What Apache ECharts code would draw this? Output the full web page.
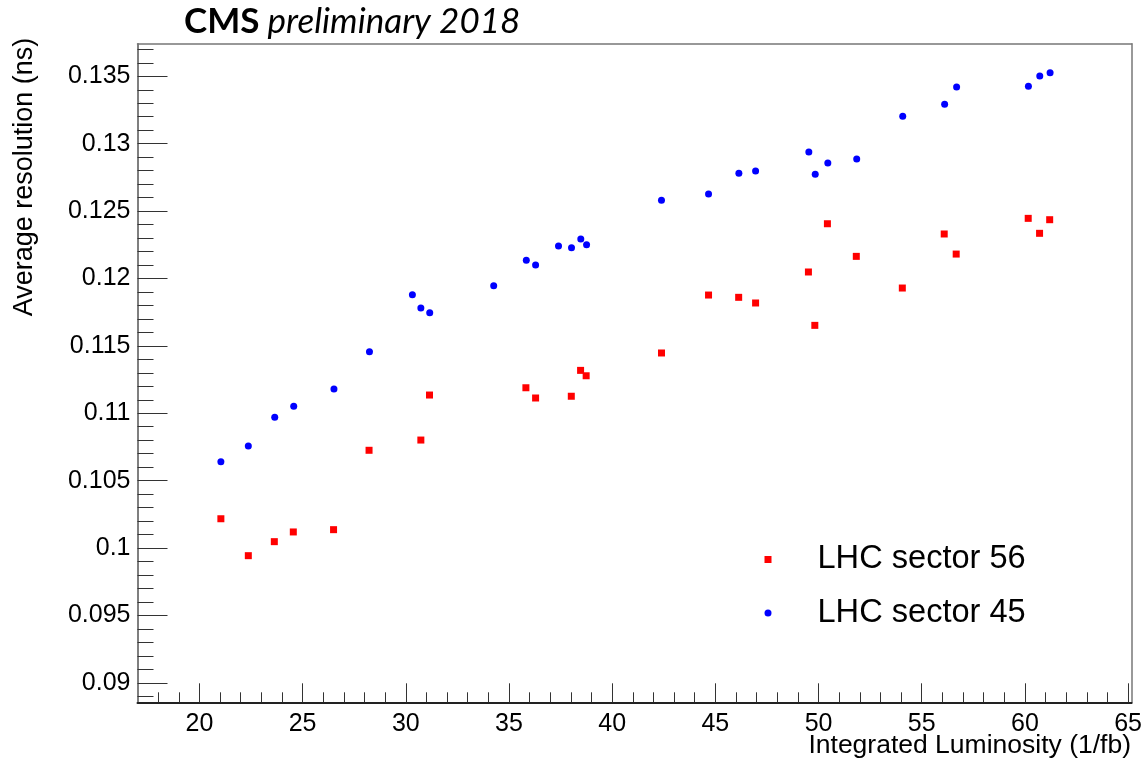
<!DOCTYPE html>
<html>
<head>
<meta charset="utf-8">
<title>Average timing resolution vs integrated luminosity</title>
<script src="https://cdn.jsdelivr.net/npm/echarts@6/dist/echarts.min.js"></script>
<style>
  html, body { margin: 0; padding: 0; background: #fff; }
  #chart { width: 1145px; height: 760px; }
</style>
</head>
<body>
<div id="chart"></div>
<script>
// Integrated luminosity (1/fb) and average resolution (ns), per LHC sector
const lumi56 = [21.04, 22.37, 23.63, 24.55, 26.50, 28.22, 30.73, 31.15, 35.82, 36.29, 38.02, 38.47, 38.74,
                42.39, 44.67, 46.13, 46.95, 49.51, 49.82, 50.43, 51.83, 54.06, 56.09, 56.67, 60.16, 60.71, 61.20];
const res56  = [0.10217, 0.09943, 0.10047, 0.10119, 0.10136, 0.10725, 0.10801, 0.11135, 0.11189, 0.11113, 0.11126, 0.11318, 0.11278,
                0.11447, 0.11877, 0.11860, 0.11818, 0.12048, 0.11652, 0.12406, 0.12164, 0.11929, 0.12330, 0.12181, 0.12446, 0.12335, 0.12436];

const lumi45 = [21.04, 22.37, 23.65, 24.57, 26.52, 28.24, 30.32, 30.73, 31.16, 34.26, 35.84, 36.29, 37.40, 38.03, 38.48, 38.76,
                42.39, 44.67, 46.14, 46.95, 49.53, 49.84, 50.45, 51.85, 54.08, 56.11, 56.69, 60.17, 60.72, 61.22];
const res45  = [0.10640, 0.10757, 0.10970, 0.11051, 0.11180, 0.11457, 0.11879, 0.11781, 0.11746, 0.11946, 0.12135, 0.12100, 0.12241, 0.12228, 0.12293, 0.12250,
                0.12580, 0.12627, 0.12780, 0.12797, 0.12938, 0.12773, 0.12857, 0.12886, 0.13203, 0.13292, 0.13421, 0.13426, 0.13502, 0.13527];

// Axis ranges and tick positions
const xRange = [17, 65.17];
const yRange = [0.08855, 0.13742];
const xMajorTicks = [20, 25, 30, 35, 40, 45, 50, 55, 60, 65];
const xMinorTicks = [18, 19, 21, 22, 23, 24, 26, 27, 28, 29, 31, 32, 33, 34, 36, 37, 38, 39, 41, 42, 43, 44,
                     46, 47, 48, 49, 51, 52, 53, 54, 56, 57, 58, 59, 61, 62, 63, 64];
const yMajorTicks = [0.09, 0.095, 0.1, 0.105, 0.11, 0.115, 0.12, 0.125, 0.13, 0.135];
const yMinorTicks = [0.089, 0.091, 0.092, 0.093, 0.094, 0.096, 0.097, 0.098, 0.099, 0.101, 0.102, 0.103, 0.104,
                     0.106, 0.107, 0.108, 0.109, 0.111, 0.112, 0.113, 0.114, 0.116, 0.117, 0.118, 0.119,
                     0.121, 0.122, 0.123, 0.124, 0.126, 0.127, 0.128, 0.129, 0.131, 0.132, 0.133, 0.134, 0.136, 0.137];

const seriesNames = ['LHC sector 56', 'LHC sector 45'];
const titleText = ['CMS', 'preliminary 2018'];
const xTitle = 'Integrated Luminosity (1/fb)';
const yTitle = 'Average resolution (ns)';

const zip = (xs, ys) => xs.map((x, i) => [x, ys[i]]);

const FONT = '"Liberation Sans", Arial, Helvetica, sans-serif';
const TITLE_FONT = 'Lato, "Open Sans", sans-serif';
const tickStyle = { color: '#333', width: 1 };

const chart = echarts.init(document.getElementById('chart'), null, { renderer: 'canvas' });

const hidden = { show: false };

chart.setOption({
  animation: false,
  backgroundColor: '#ffffff',
  grid: { left: 137.5, right: 12, top: 43.7, bottom: 57.7, containLabel: false },
  xAxis: [
    { // main axis with major ticks and labels
      type: 'value', min: xRange[0], max: xRange[1], position: 'bottom',
      axisLine: { show: true, lineStyle: { color: '#222', width: 2 } },
      axisTick: { show: true, inside: true, length: 19, customValues: xMajorTicks, lineStyle: tickStyle },
      axisLabel: { show: true, customValues: xMajorTicks, margin: 9, color: '#000',
                   fontFamily: FONT, fontSize: 25 },
      splitLine: hidden, minorTick: hidden
    },
    { // minor ticks
      type: 'value', min: xRange[0], max: xRange[1], position: 'bottom',
      axisLine: hidden, axisLabel: hidden, splitLine: hidden,
      axisTick: { show: true, inside: true, length: 10, customValues: xMinorTicks, lineStyle: tickStyle }
    },
    { // top frame edge
      type: 'value', min: xRange[0], max: xRange[1], position: 'top',
      axisLine: { show: true, lineStyle: { color: '#777', width: 1.5 } },
      axisTick: hidden, axisLabel: hidden, splitLine: hidden
    }
  ],
  yAxis: [
    {
      type: 'value', min: yRange[0], max: yRange[1], position: 'left',
      axisLine: { show: true, lineStyle: { color: '#555', width: 1.5 } },
      axisTick: { show: true, inside: true, length: 30, customValues: yMajorTicks, lineStyle: tickStyle },
      axisLabel: { show: true, customValues: yMajorTicks, margin: 7, color: '#000',
                   fontFamily: FONT, fontSize: 25,
                   formatter: v => String(+(+v).toFixed(3)) },
      splitLine: hidden, minorTick: hidden
    },
    {
      type: 'value', min: yRange[0], max: yRange[1], position: 'left',
      axisLine: hidden, axisLabel: hidden, splitLine: hidden,
      axisTick: { show: true, inside: true, length: 16, customValues: yMinorTicks, lineStyle: tickStyle }
    },
    { // right frame edge
      type: 'value', min: yRange[0], max: yRange[1], position: 'right',
      axisLine: { show: true, lineStyle: { color: '#777', width: 1.5 } },
      axisTick: hidden, axisLabel: hidden, splitLine: hidden
    }
  ],
  legend: {
    orient: 'vertical',
    left: 759.5, top: 537.5,
    itemWidth: 7, itemHeight: 7, itemGap: 19.5,
    data: [
      { name: seriesNames[0], icon: 'rect', itemStyle: { color: '#ff0000' } },
      { name: seriesNames[1], icon: 'circle', itemStyle: { color: '#0000ff' } }
    ],
    textStyle: { fontFamily: FONT, fontSize: 32.6, color: '#000', lineHeight: 34, padding: [0, 0, 0, 41] },
    selectedMode: false
  },
  graphic: [
    {
      type: 'text', left: 184, top: 4,
      style: {
        text: '{b|' + titleText[0] + '}{i| ' + titleText[1] + '}',
        rich: {
          b: { fontFamily: TITLE_FONT, fontWeight: 'bold', fontSize: 35, fill: '#000' },
          i: { fontFamily: TITLE_FONT, fontStyle: 'italic', fontSize: 35, fill: '#000' }
        }
      }
    },
    {
      type: 'text', x: 1131, y: 746,
      style: { text: xTitle, fontFamily: FONT, fontSize: 26.5, fill: '#000', align: 'right', verticalAlign: 'middle' }
    },
    {
      type: 'text', x: 25, y: 177, rotation: Math.PI / 2,
      style: { text: yTitle, fontFamily: FONT, fontSize: 27, fill: '#000', align: 'center', verticalAlign: 'middle' }
    }
  ],
  series: [
    {
      name: seriesNames[0], type: 'scatter', xAxisIndex: 0, yAxisIndex: 0,
      symbol: 'rect', symbolSize: 7,
      itemStyle: { color: '#ff0000', opacity: 1 },
      data: zip(lumi56, res56)
    },
    {
      name: seriesNames[1], type: 'scatter', xAxisIndex: 0, yAxisIndex: 0,
      symbol: 'circle', symbolSize: 7,
      itemStyle: { color: '#0000ff', opacity: 1 },
      data: zip(lumi45, res45)
    }
  ]
});
</script>
</body>
</html>
